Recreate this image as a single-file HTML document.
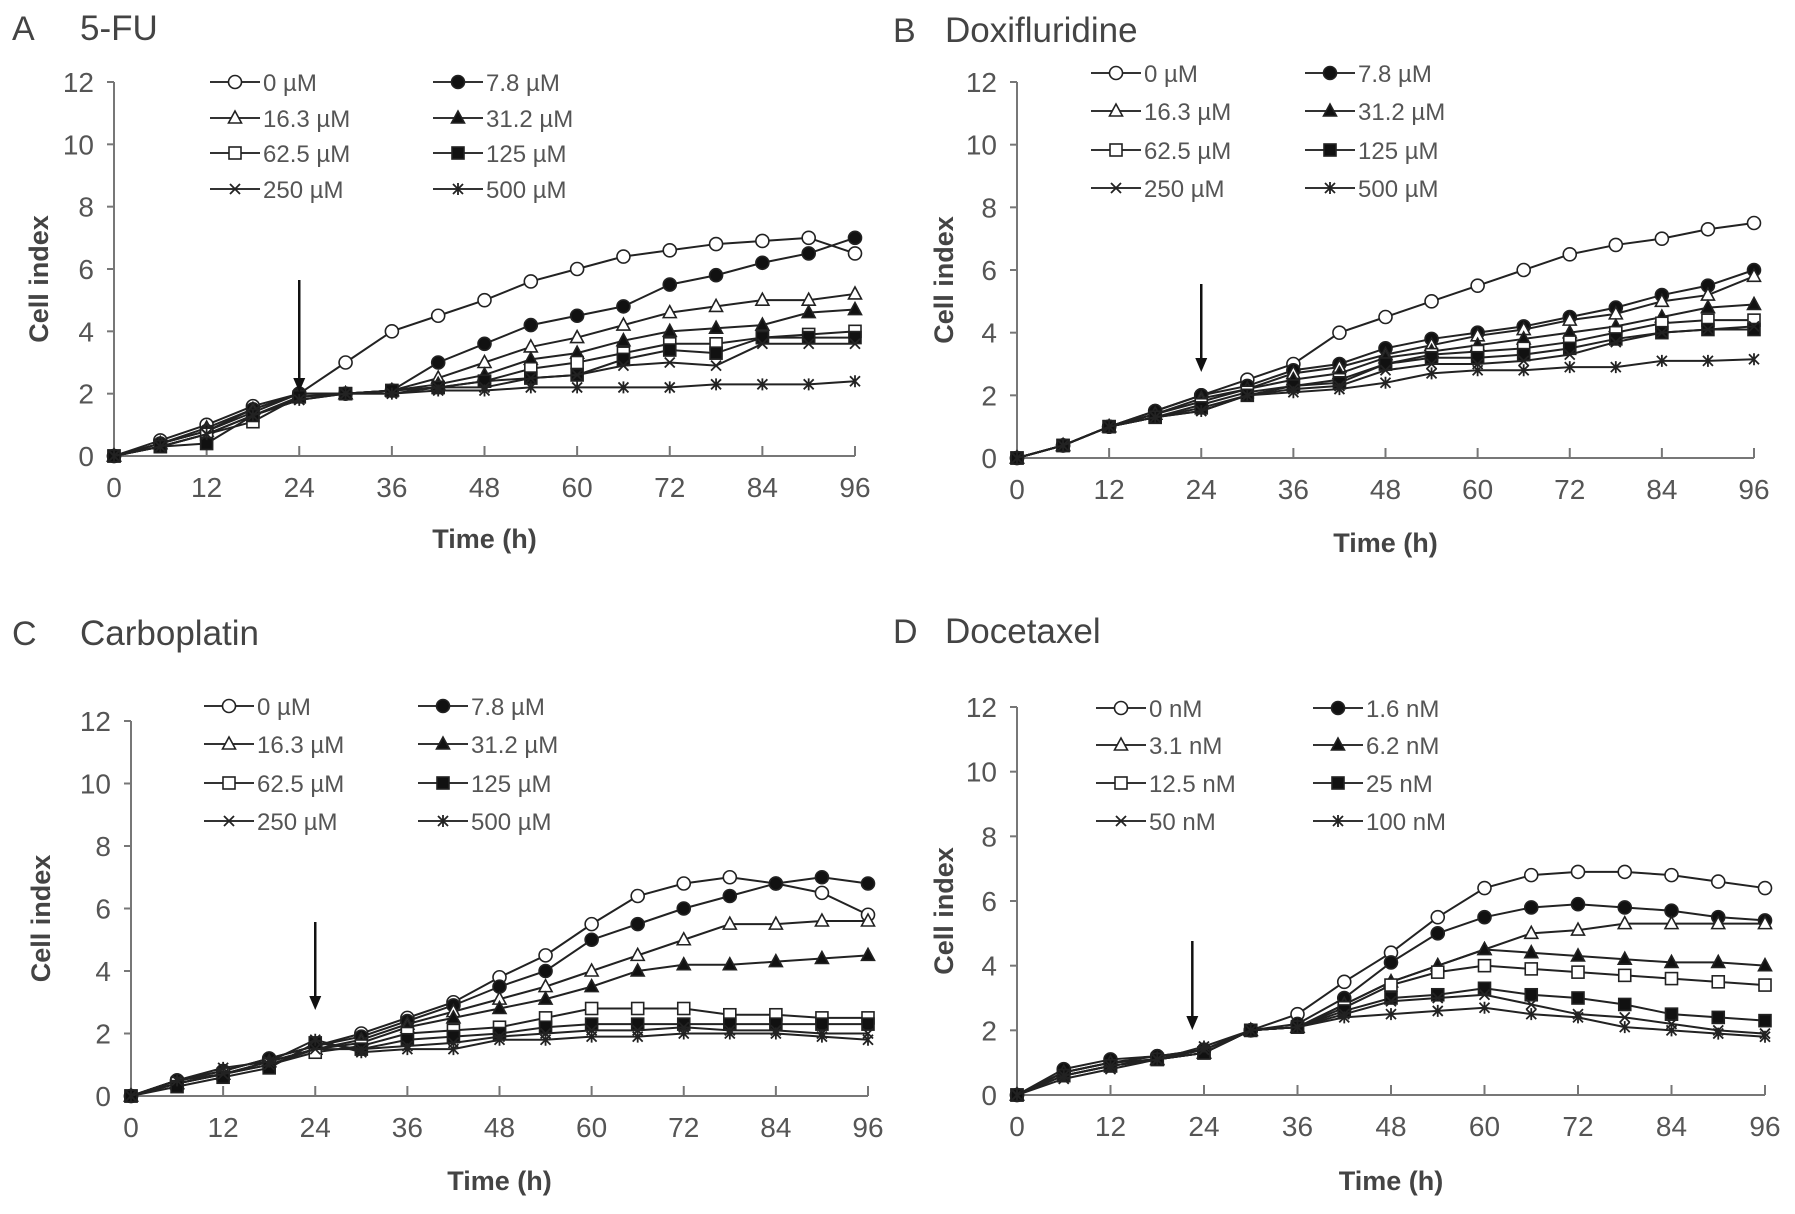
<!DOCTYPE html>
<html><head><meta charset="utf-8"><style>
html,body{margin:0;padding:0;background:#fff}
svg{display:block}
text{font-family:"Liberation Sans",sans-serif}
</style></head><body>
<svg id="fig" width="1795" height="1214" viewBox="0 0 1795 1214" xmlns="http://www.w3.org/2000/svg"></svg>
<script>
const times=[0,6,12,18,24,30,36,42,48,54,60,66,72,78,84,90,96];
const xTicks=[0,12,24,36,48,60,72,84,96];
const yTicks=[0,2,4,6,8,10,12];
const markers=['oc','fc','ot','ft','os','fs','x','star'];
const labelsUM=['0 µM','7.8 µM','16.3 µM','31.2 µM','62.5 µM','125 µM','250 µM','500 µM'];
const labelsNM=['0 nM','1.6 nM','3.1 nM','6.2 nM','12.5 nM','25 nM','50 nM','100 nM'];
const seriesA=[
[0,0.5,1.0,1.6,2.0,3.0,4.0,4.5,5.0,5.6,6.0,6.4,6.6,6.8,6.9,7.0,6.5],
[0,0.4,0.8,1.5,2.0,2.0,2.1,3.0,3.6,4.2,4.5,4.8,5.5,5.8,6.2,6.5,7.0],
[0,0.4,0.9,1.5,2.0,2.0,2.1,2.5,3.0,3.5,3.8,4.2,4.6,4.8,5.0,5.0,5.2],
[0,0.4,0.8,1.4,2.0,2.0,2.1,2.3,2.6,3.1,3.3,3.7,4.0,4.1,4.2,4.6,4.7],
[0,0.3,0.7,1.1,1.9,2.0,2.1,2.2,2.4,2.8,3.0,3.3,3.6,3.6,3.8,3.9,4.0],
[0,0.3,0.4,1.3,1.9,2.0,2.1,2.2,2.4,2.5,2.6,3.1,3.4,3.3,3.8,3.8,3.8],
[0,0.3,0.7,1.3,1.8,2.0,2.0,2.2,2.2,2.5,2.6,2.9,3.0,2.9,3.6,3.6,3.6],
[0,0.3,0.7,1.3,1.8,2.0,2.0,2.1,2.1,2.2,2.2,2.2,2.2,2.3,2.3,2.3,2.4]];
const seriesB=[
[0,0.4,1.0,1.5,2.0,2.5,3.0,4.0,4.5,5.0,5.5,6.0,6.5,6.8,7.0,7.3,7.5],
[0,0.4,1.0,1.5,2.0,2.3,2.8,3.0,3.5,3.8,4.0,4.2,4.5,4.8,5.2,5.5,6.0],
[0,0.4,1.0,1.4,1.9,2.2,2.7,2.9,3.3,3.6,3.9,4.1,4.4,4.6,5.0,5.2,5.8],
[0,0.4,1.0,1.4,1.8,2.2,2.5,2.7,3.2,3.4,3.6,3.8,4.0,4.2,4.5,4.8,4.9],
[0,0.4,1.0,1.3,1.7,2.1,2.3,2.5,3.0,3.3,3.4,3.5,3.7,4.0,4.3,4.4,4.4],
[0,0.4,1.0,1.3,1.6,2.0,2.3,2.4,3.0,3.2,3.2,3.3,3.5,3.8,4.0,4.1,4.1],
[0,0.4,1.0,1.3,1.5,2.0,2.2,2.3,2.8,3.0,3.0,3.1,3.3,3.7,4.0,4.1,4.2],
[0,0.4,1.0,1.3,1.5,2.0,2.1,2.2,2.4,2.7,2.8,2.8,2.9,2.9,3.1,3.1,3.15]];
const seriesC=[
[0,0.5,0.8,1.2,1.6,2.0,2.5,3.0,3.8,4.5,5.5,6.4,6.8,7.0,6.8,6.5,5.8],
[0,0.5,0.8,1.2,1.6,1.9,2.4,2.9,3.5,4.0,5.0,5.5,6.0,6.4,6.8,7.0,6.8],
[0,0.4,0.7,1.1,1.5,1.8,2.3,2.7,3.1,3.5,4.0,4.5,5.0,5.5,5.5,5.6,5.6],
[0,0.4,0.7,1.1,1.5,1.7,2.2,2.5,2.8,3.1,3.5,4.0,4.2,4.2,4.3,4.4,4.5],
[0,0.4,0.7,1.0,1.4,1.6,2.0,2.1,2.2,2.5,2.8,2.8,2.8,2.6,2.6,2.5,2.5],
[0,0.3,0.6,0.9,1.7,1.5,1.8,1.9,2.0,2.2,2.3,2.3,2.3,2.3,2.3,2.3,2.3],
[0,0.5,0.7,1.0,1.5,1.5,1.6,1.7,1.9,2.0,2.1,2.1,2.2,2.1,2.1,2.0,2.0],
[0,0.5,0.9,1.1,1.8,1.4,1.5,1.5,1.8,1.8,1.9,1.9,2.0,2.0,2.0,1.9,1.8]];
const seriesD=[
[0,0.7,1.0,1.2,1.4,2.0,2.5,3.5,4.4,5.5,6.4,6.8,6.9,6.9,6.8,6.6,6.4],
[0,0.8,1.1,1.2,1.4,2.0,2.2,3.0,4.1,5.0,5.5,5.8,5.9,5.8,5.7,5.5,5.4],
[0,0.7,1.0,1.1,1.3,2.0,2.1,2.8,3.5,4.0,4.5,5.0,5.1,5.3,5.3,5.3,5.3],
[0,0.7,1.0,1.1,1.3,2.0,2.1,2.8,3.5,4.0,4.5,4.4,4.3,4.2,4.1,4.1,4.0],
[0,0.6,0.9,1.1,1.3,2.0,2.1,2.7,3.4,3.8,4.0,3.9,3.8,3.7,3.6,3.5,3.4],
[0,0.6,0.9,1.1,1.3,2.0,2.1,2.6,3.0,3.1,3.3,3.1,3.0,2.8,2.5,2.4,2.3],
[0,0.5,0.8,1.1,1.4,2.0,2.1,2.5,2.9,3.0,3.1,2.8,2.5,2.4,2.2,2.0,1.9],
[0,0.6,0.9,1.1,1.5,2.0,2.1,2.4,2.5,2.6,2.7,2.5,2.4,2.1,2.0,1.9,1.8]];
const arrowTimes=[24,24,24,22.5];

const NS='http://www.w3.org/2000/svg';
const svg=document.getElementById('fig');
function mk(tag,attrs,parent){const e=document.createElementNS(NS,tag);for(const k in attrs)e.setAttribute(k,attrs[k]);(parent||svg).appendChild(e);return e;}
function txt(s,attrs,parent){const e=mk('text',attrs,parent);e.textContent=s;return e;}

function marker(g,type,x,y){
  const r=6.5;let e;
  if(type==='oc'||type==='fc'){e=mk('circle',{cx:x,cy:y,r:r,fill:type==='fc'?'#111':'#fff',stroke:'#222','stroke-width':1.6},g);}
  else if(type==='ot'||type==='ft'){e=mk('polygon',{points:`${x},${y-7} ${x-6.5},${y+5} ${x+6.5},${y+5}`,fill:type==='ft'?'#111':'#fff',stroke:'#222','stroke-width':1.6},g);}
  else if(type==='os'||type==='fs'){e=mk('rect',{x:x-6,y:y-6,width:12,height:12,fill:type==='fs'?'#111':'#fff',stroke:'#222','stroke-width':1.6},g);}
  else if(type==='x'){e=mk('path',{d:`M${x-5},${y-5}L${x+5},${y+5}M${x-5},${y+5}L${x+5},${y-5}`,stroke:'#222','stroke-width':1.8,fill:'none'},g);}
  else {e=mk('path',{d:`M${x-5},${y-5}L${x+5},${y+5}M${x-5},${y+5}L${x+5},${y-5}M${x},${y-6}L${x},${y+6}`,stroke:'#222','stroke-width':1.8,fill:'none'},g);}
  
  
}

const panels=[
 {id:'a',letter:'A',title:'5-FU',lx:12,tx:80,ty:40,x0:114,x1:855,y0:456,y1:82,data:seriesA,labels:labelsUM,legX:[210,433],legY:[82,118,153,189],ax:0,arrowTop:280,arrowBot:392,ylab:38,xlabY:548},
 {id:'b',letter:'B',title:'Doxifluridine',lx:893,tx:945,ty:42,x0:1017,x1:1754,y0:458,y1:82,data:seriesB,labels:labelsUM,legX:[1091,1305],legY:[73,111,150,188],ax:1,arrowTop:284,arrowBot:372,ylab:943,xlabY:552},
 {id:'c',letter:'C',title:'Carboplatin',lx:12,tx:80,ty:645,x0:131,x1:868,y0:1096,y1:721,data:seriesC,labels:labelsUM,legX:[204,418],legY:[706,744,783,821],ax:2,arrowTop:922,arrowBot:1010,ylab:40,xlabY:1190},
 {id:'d',letter:'D',title:'Docetaxel',lx:893,tx:945,ty:643,x0:1017,x1:1765,y0:1095,y1:707,data:seriesD,labels:labelsNM,legX:[1096,1313],legY:[708,745,783,821],ax:3,arrowTop:941,arrowBot:1030,ylab:943,xlabY:1190}
];

panels.forEach(p=>{
  const g=mk('g',{});
  
  
  const X=t=>p.x0+(t/96)*(p.x1-p.x0);
  const Y=v=>p.y0-(v/12)*(p.y0-p.y1);
  const tl=txt(p.letter,{x:p.lx,y:p.ty,'font-size':34,fill:'#444'},g);
  
  
  const tt=txt(p.title,{x:p.tx,y:p.ty,'font-size':35,fill:'#444'},g);
  
  
  const ya=mk('line',{x1:p.x0,y1:p.y0,x2:p.x0,y2:p.y1,stroke:'#777','stroke-width':2},g);
  
  
  const xa=mk('line',{x1:p.x0,y1:p.y0,x2:p.x1,y2:p.y0,stroke:'#777','stroke-width':2},g);
  
  
  yTicks.forEach(v=>{
    mk('line',{x1:p.x0-7,y1:Y(v),x2:p.x0,y2:Y(v),stroke:'#777','stroke-width':2},g);
    const t=txt(String(v),{x:p.x0-20,y:Y(v)+10,'font-size':28,fill:'#555','text-anchor':'end'},g);
    
    
  });
  xTicks.forEach(v=>{
    mk('line',{x1:X(v),y1:p.y0,x2:X(v),y2:p.y0-10,stroke:'#777','stroke-width':2},g);
    const t=txt(String(v),{x:X(v),y:p.y0+41,'font-size':28,fill:'#555','text-anchor':'middle'},g);
    
    
  });
  const yt=txt('Cell index',{x:0,y:0,'font-size':27,'font-weight':'bold',fill:'#444','text-anchor':'middle',transform:`translate(${p.ylab+10},${(p.y0+p.y1)/2+10}) rotate(-90)`},g);
  
  
  const xt=txt('Time (h)',{x:(p.x0+p.x1)/2,y:p.xlabY,'font-size':27,'font-weight':'bold',fill:'#444','text-anchor':'middle'},g);
  
  
  p.data.forEach((s,i)=>{
    const sg=mk('g',{},g);
    
    
    mk('polyline',{points:s.map((v,j)=>X(times[j])+','+Y(v)).join(' '),fill:'none',stroke:'#222','stroke-width':2},sg);
    s.forEach((v,j)=>marker(sg,markers[i],X(times[j]),Y(v)));
  });
  const ax=X(arrowTimes[p.ax]);
  const ag=mk('g',{},g);
  
  
  mk('line',{x1:ax,y1:p.arrowTop,x2:ax,y2:p.arrowBot-10,stroke:'#111','stroke-width':2.5},ag);
  mk('polygon',{points:`${ax-6},${p.arrowBot-14} ${ax+6},${p.arrowBot-14} ${ax},${p.arrowBot}`,fill:'#111'},ag);
  p.labels.forEach((lab,i)=>{
    const col=i%2,row=Math.floor(i/2);
    const lx=p.legX[col],ly=p.legY[row];
    const lg=mk('g',{},g);
    
    
    mk('line',{x1:lx,y1:ly,x2:lx+50,y2:ly,stroke:'#333','stroke-width':2},lg);
    marker(lg,markers[i],lx+25,ly);
    txt(lab,{x:lx+53,y:ly+9,'font-size':24,fill:'#555'},lg);
  });
});
</script>
</body></html>
